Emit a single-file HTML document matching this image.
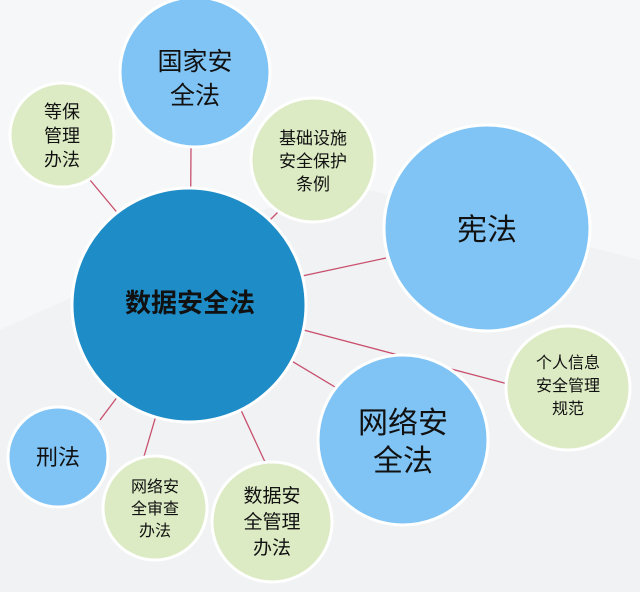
<!DOCTYPE html>
<html><head><meta charset="utf-8"><style>
body{margin:0;width:640px;height:587px;overflow:hidden;background:#f1f2f3}
text{font-family:"Liberation Sans","Noto Sans CJK SC",sans-serif;fill:#111;text-anchor:middle}
</style></head><body>
<svg width="640" height="587" xmlns="http://www.w3.org/2000/svg">
<rect width="640" height="587" fill="#f1f2f3"/>
<polygon points="0,330 330,180 640,260 640,0 0,0" fill="#f6f7f8"/>
<g stroke="#c8506e" stroke-width="1.3">
<line x1="190" y1="300" x2="191" y2="147"/>
<line x1="190" y1="300" x2="90" y2="180"/>
<line x1="190" y1="300" x2="280" y2="210"/>
<line x1="190" y1="300" x2="386" y2="258"/>
<line x1="190" y1="300" x2="508" y2="384"/>
<line x1="190" y1="300" x2="340" y2="390"/>
<line x1="190" y1="300" x2="100" y2="420"/>
<line x1="190" y1="300" x2="140" y2="470"/>
<line x1="190" y1="300" x2="265" y2="462"/>
</g>
<g stroke="#fff" stroke-width="3">
<circle cx="195" cy="72" r="75" fill="#80c4f5"/>
<circle cx="62" cy="135" r="52" fill="#dcebc4"/>
<circle cx="313" cy="160" r="62" fill="#dcebc4"/>
<circle cx="487" cy="228" r="103" fill="#80c4f5"/>
<circle cx="568" cy="388" r="62" fill="#dcebc4"/>
<circle cx="403" cy="440" r="85" fill="#80c4f5"/>
<circle cx="58" cy="457" r="50" fill="#80c4f5"/>
<circle cx="155" cy="508" r="52" fill="#dcebc4"/>
<circle cx="272" cy="522" r="60" fill="#dcebc4"/>
<circle cx="189" cy="305" r="117" fill="#1e8cc6"/>
</g>
<text x="190" y="312" font-size="26" font-weight="bold">数据安全法</text>
<text x="195" y="70" font-size="25">国家安</text>
<text x="195" y="104" font-size="25">全法</text>
<text x="62" y="118" font-size="18">等保</text>
<text x="62" y="142" font-size="18">管理</text>
<text x="62" y="166" font-size="18">办法</text>
<text x="313" y="144" font-size="17">基础设施</text>
<text x="313" y="167" font-size="17">安全保护</text>
<text x="313" y="190" font-size="17">条例</text>
<text x="487" y="240" font-size="30">宪法</text>
<text x="568" y="368" font-size="16">个人信息</text>
<text x="568" y="391" font-size="16">安全管理</text>
<text x="568" y="414" font-size="16">规范</text>
<text x="403" y="433" font-size="30">网络安</text>
<text x="403" y="471" font-size="30">全法</text>
<text x="58" y="465" font-size="22">刑法</text>
<text x="155" y="492" font-size="16">网络安</text>
<text x="155" y="514" font-size="16">全审查</text>
<text x="155" y="536" font-size="16">办法</text>
<text x="272" y="502" font-size="19">数据安</text>
<text x="272" y="528" font-size="19">全管理</text>
<text x="272" y="554" font-size="19">办法</text>
</svg>
</body></html>
